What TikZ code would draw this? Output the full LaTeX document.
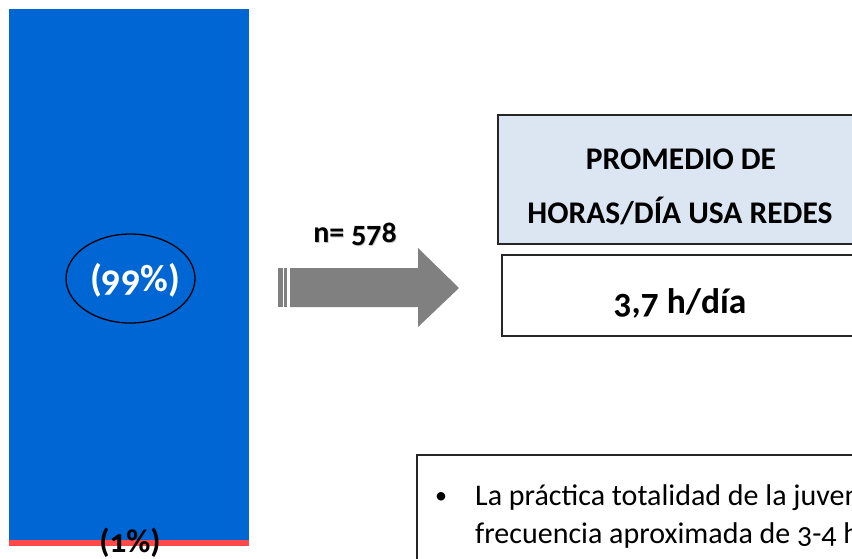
\documentclass[tikz,border=0pt]{standalone}
\usepackage{fontspec}
\usetikzlibrary{shapes.geometric}
\setmainfont{Carlito}[Numbers=OldStyle]
\definecolor{barblue}{HTML}{0066D4}
\definecolor{barred}{HTML}{FF4848}
\definecolor{boxblue}{HTML}{DCE6F2}
\definecolor{arrowgray}{HTML}{808080}
\tikzset{
  px/.style={x=1pt,y=-1pt},
  framebox/.style={draw=black!85,line width=1.3pt},
  lbl/.style={inner sep=0pt,font=\bfseries},
  body/.style={inner sep=0pt,anchor=base west,font=\fontsize{30}{34}\selectfont},
}
\begin{document}
\begin{tikzpicture}[px]
\useasboundingbox (0,0) rectangle (852,558);
\clip (0,0) rectangle (852,558);
% bar
\fill[barblue] (9,9) rectangle (249,540);
\fill[barred] (9,540) rectangle (249,546);
\node[draw=black,line width=1.3pt,ellipse,minimum width=129pt,minimum height=89pt,inner sep=0pt] (ell) at (130.5,278.5) {};
\node[lbl,text=white,font=\bfseries\fontsize{38}{42}\selectfont] (p99) at (135,280) {(99\%)};
\node[lbl,text=black,font=\bfseries\fontsize{33}{38}\selectfont,anchor=base] (p1) at (130,552) {(1\%)};
% arrow
\fill[arrowgray] (278,268) rectangle (283,307);
\fill[arrowgray] (284,268) rectangle (287,307);
\fill[arrowgray] (290,268) -- (418,268) -- (418,248) -- (459,288) -- (418,327) -- (418,307) -- (290,307) -- cycle;
\node[lbl,text=black!25,font=\bfseries\fontsize{30}{34}\selectfont,anchor=base] at (355.8,243.3) {n= 578};
\node[lbl,text=black,font=\bfseries\fontsize{30}{34}\selectfont,anchor=base] (n) at (355,242) {n= 578};
% boxes
\filldraw[fill=boxblue,framebox] (498,115) rectangle (870,244);
\node[lbl,font=\bfseries\fontsize{31.5}{36}\selectfont,anchor=base] (t1) at (681,169) {PROMEDIO DE};
\node[lbl,font=\bfseries\fontsize{31.5}{36}\selectfont,anchor=base] (t2) at (680,223) {HORAS/DÍA USA REDES};
\filldraw[fill=white,framebox] (502,255) rectangle (870,336);
\node[lbl,font=\bfseries\fontsize{35.5}{40}\selectfont,anchor=base] (val) at (680,313) {3,7 h/día};
% text box
\draw[line width=1.3pt,draw=black!85] (417,580) -- (417,455) -- (870,455);
\node[inner sep=0pt,anchor=base,font=\fontsize{24}{30}\selectfont] (b) at (441,503) {•};
\node[body] (l1) at (475,505) {La práctica totalidad de la juventud};
\node[body] (l2) at (475,543) {frecuencia aproximada de 3-4 horas};
\end{tikzpicture}
\end{document}
